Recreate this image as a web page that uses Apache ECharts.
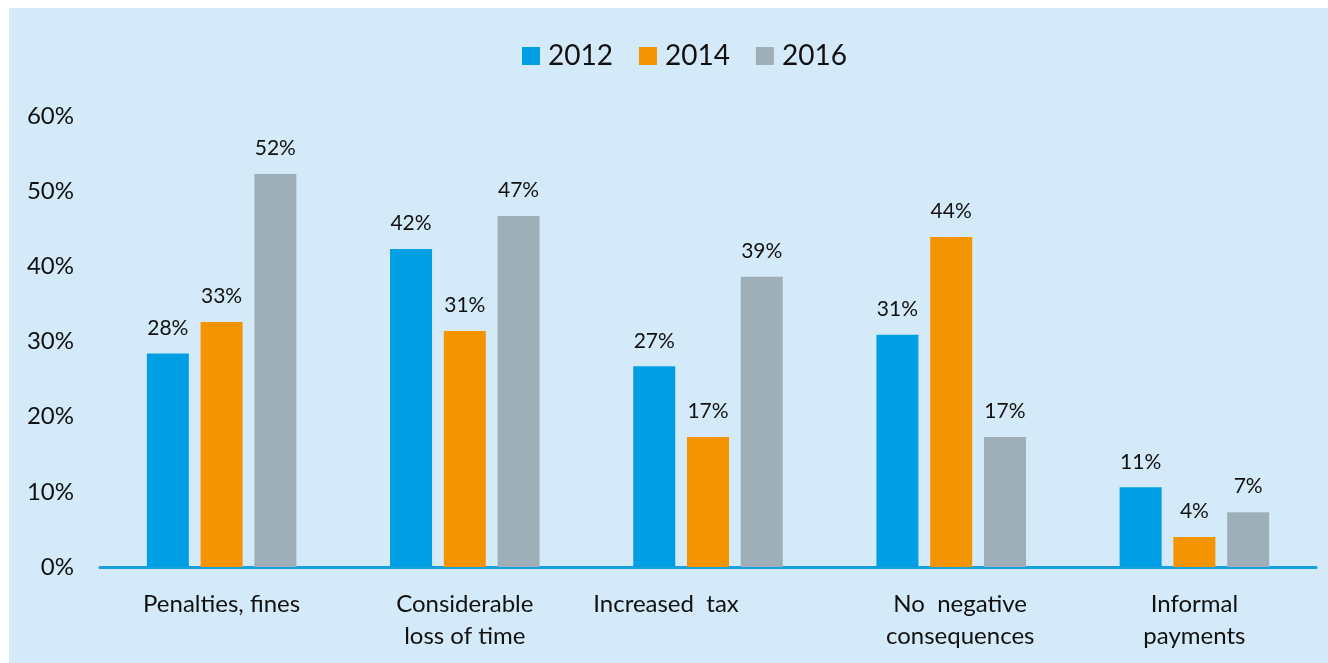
<!DOCTYPE html>
<html>
<head>
<meta charset="utf-8">
<script src="https://cdn.jsdelivr.net/npm/echarts@6/dist/echarts.min.js"></script>
<style>
html,body{margin:0;padding:0;background:#ffffff;width:1328px;height:663px;overflow:hidden;}
#chart{position:absolute;left:9px;top:8px;width:1319px;height:655px;background:#d5eaf8;}
</style>
</head>
<body>
<div id="chart"></div>
<script>
const categories = ['Penalties, fines', 'Considerable\nloss of time', 'Increased  tax', 'No  negative\nconsequences', 'Informal\npayments'];
const years = ['2012', '2014', '2016'];
const values2012 = [28.4, 42.3, 26.7, 30.9, 10.6];
const values2014 = [32.6, 31.4, 17.3, 43.9, 4.0];
const values2016 = [52.3, 46.7, 38.6, 17.3, 7.3];
const yTicks = [0, 10, 20, 30, 40, 50, 60];

const FONT = 'Lato';
const colors = ['#009fe3', '#f39400', '#9eafb9'];
const seriesValues = [values2012, values2014, values2016];

const chart = echarts.init(document.getElementById('chart'), null, {renderer: 'canvas'});
const catData = categories.map(c => {
  if (c === 'Increased  tax') return {value: c, textStyle: {padding: [0, 84, 0, 0]}};
  if (c === 'No  negative\nconsequences') return {value: c, textStyle: {padding: [0, 0, 0, 18]}};
  return c;
});
chart.setOption({
  backgroundColor: '#d5eaf8',
  animation: false,
  textStyle: {fontFamily: FONT},
  legend: {
    top: 29,
    left: 508,
    itemWidth: 18,
    itemHeight: 18,
    itemGap: 26,
    icon: 'rect',
    textStyle: {fontSize: 28, color: '#111', fontFamily: FONT, padding: [0, 0, 0, 3]},
    data: years
  },
  grid: {left: 91, right: 12, top: 108, bottom: 96, containLabel: false},
  xAxis: {
    type: 'category',
    data: catData,
    axisLine: {lineStyle: {color: '#1a9fe0', width: 3}},
    axisTick: {show: false},
    axisLabel: {fontSize: 24, color: '#111', fontFamily: FONT, margin: 21, lineHeight: 32, interval: 0}
  },
  yAxis: {
    type: 'value',
    min: 0, max: 60, interval: 10,
    splitLine: {show: false},
    axisLine: {show: false},
    axisTick: {show: false},
    axisLabel: {fontSize: 24, color: '#111', fontFamily: FONT, margin: 26,
      formatter: v => yTicks.includes(v) ? v + '%' : ''}
  },
  series: years.map((y, i) => ({
    name: y,
    type: 'bar',
    data: seriesValues[i],
    barWidth: 42,
    barGap: '28%',
    itemStyle: {color: colors[i]},
    label: {
      show: true, position: 'top', distance: 15,
      fontSize: 21, color: '#111', fontFamily: FONT,
      formatter: p => Math.round(p.value) + '%'
    }
  }))
});
</script>
</body>
</html>
